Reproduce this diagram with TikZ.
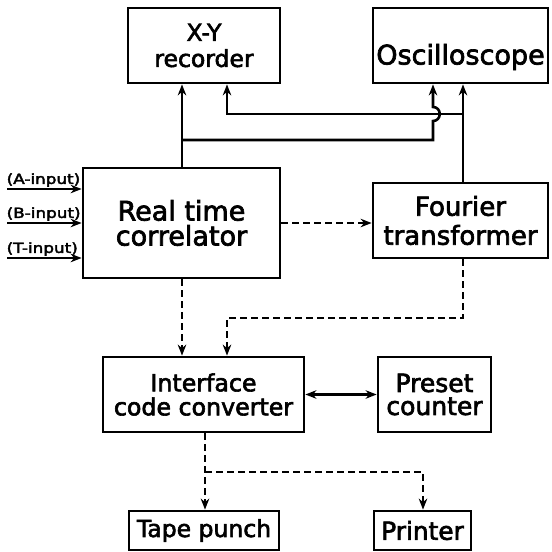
\documentclass[tikz,border=0pt]{standalone}
\usepackage{graphicx}
\usepackage{fontspec}
\setmainfont{DejaVu Sans}[FakeBold=2.5]
\usetikzlibrary{arrows.meta,calc}
\newcommand\fsz[2]{\fontsize{#1}{#2}\selectfont}
\begin{document}
\begin{tikzpicture}[x=1pt,y=-1pt,
  box/.style={draw,line width=2.8pt,rectangle,inner sep=0pt,align=center},
  wire/.style={line width=2.6pt},
  dwire/.style={wire,dash pattern=on 7pt off 4pt},
  tip/.style={-{Stealth[length=11pt,width=8.5pt]}},
  bitip/.style={{Stealth[length=11pt,width=8.5pt]}-{Stealth[length=11pt,width=8.5pt]}},
  lbl/.style={inner sep=0.5pt,font=\fsz{14}{15}},
]
\useasboundingbox (0,0) rectangle (552,552);
\fill[white] (0,0) rectangle (552,552);

% blocks
\node[box,minimum width=152pt,minimum height=75pt,font=\fsz{23.5}{26}] (xy) at (204,45.5) {X-Y\\recorder};
\node[box,minimum width=175pt,minimum height=75pt,font=\fsz{27}{29}] (osc) at (460.5,45.5) {\smash{\raisebox{-19pt}{Oscilloscope}}};
\node[box,minimum width=197pt,minimum height=110pt,font=\fsz{27}{25}] (rtc) at (181.5,223) {Real time\\correlator};
\node[box,minimum width=175pt,minimum height=75pt,font=\fsz{26}{29}] (ft) at (460.5,220.5) {Fourier\\transformer};
\node[box,minimum width=201pt,minimum height=75pt,font=\fsz{23.7}{24}] (icc) at (203.5,394.5) {Interface\\code converter};
\node[box,minimum width=113pt,minimum height=75pt,font=\fsz{25}{23}] (pc) at (434.5,394.5) {Preset\\counter};
\node[box,minimum width=150pt,minimum height=39pt,font=\fsz{23.5}{25}] (tp) at (204,530.5) {Tape punch};
\node[box,minimum width=97pt,minimum height=39pt,font=\fsz{24.8}{25}] (pr) at (422.5,530.5) {Printer};

% analogue outputs to the recorder and the oscilloscope
\coordinate (ja) at (182,140);
\coordinate (jb) at (433,140);
\coordinate (hl) at (433,121);
\coordinate (hu) at (433,107);
\coordinate (rx) at (463,114);
\coordinate (jd) at (227,114);
\draw[wire,tip] (ja |- rtc.north) -- (ja |- xy.south);
\draw[wire,tip] (ja) -- (jb) -- (hl) .. controls (442,121) and (442,107) .. (hu) -- (hu |- osc.south);
\draw[wire,tip] (rx |- ft.north) -- (rx |- osc.south);
\draw[wire,tip] (rx) -- (jd) -- (jd |- xy.south);

% digital data paths
\coordinate (fe) at (463,318);
\coordinate (fw) at (227,318);
\draw[dwire,tip] (rtc.east) -- (rtc.east -| ft.west);
\draw[dwire,tip] (ja |- rtc.south) -- (ja |- icc.north);
\draw[dwire,tip] (rx |- ft.south) -- (fe) -- (fw) -- (fw |- icc.north);
\draw[wire,bitip] (icc.east) -- (pc.west);
\coordinate (ob) at (205,472);
\coordinate (orr) at (423,472);
\draw[dwire,tip] (ob |- icc.south) -- (ob) -- (ob |- tp.north);
\draw[dwire,tip] (ob) -- (orr) -- (orr |- pr.north);

% correlator inputs
\coordinate (ia) at (7,189);
\coordinate (ib) at (7,223);
\coordinate (it) at (7,258);
\draw[wire,tip] (ia) -- (ia -| rtc.west);
\draw[wire,tip] (ib) -- (ib -| rtc.west);
\draw[wire,tip] (it) -- (it -| rtc.west);
\node[lbl,anchor=south west] (la) at (6,187.5) {\scalebox{1.2}[1]{(A-input)}};
\node[lbl,anchor=south west] (lb) at (6,221.5) {\scalebox{1.2}[1]{(B-input)}};
\node[lbl,anchor=south west] (lt) at (6,256.5) {\scalebox{1.2}[1]{(T-input)}};
\end{tikzpicture}
\end{document}
